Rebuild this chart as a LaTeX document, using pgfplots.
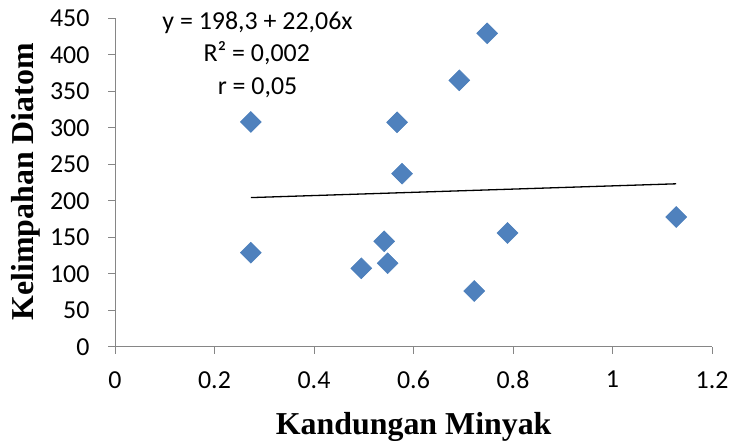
\documentclass[border=0pt]{standalone}
\usepackage{pgfplots}
\pgfplotsset{compat=1.18}
\usepackage{fontspec}
\setmainfont{Liberation Serif}
\newfontfamily\calibri{Carlito}
\definecolor{ptblue}{HTML}{4F81BD}
\definecolor{ptedge}{HTML}{4A7EBB}
\definecolor{axgray}{HTML}{868686}
\begin{document}
\begin{tikzpicture}[x=1bp,y=1bp]
\useasboundingbox (0,0) rectangle (730,441);
\begin{axis}[
  at={(115bp,94.3bp)}, anchor=south west,
  scale only axis, width=597bp, height=328.4bp,
  xmin=0, xmax=1.2, ymin=0, ymax=450,
  axis x line*=bottom, axis y line*=left,
  axis line style={axgray, line width=0.9bp},
  every tick/.style={axgray, line width=0.9bp},
  tick align=outside, major tick length=7bp,
  xtick={0,0.2,0.4,0.6,0.8,1,1.2},
  xticklabels={0,0.2,0.4,0.6,0.8,1,1.2},
  ytick={0,50,100,150,200,250,300,350,400,450},
  /pgf/number format/assume math mode=true,
  ticklabel style={font=\calibri\fontsize{26}{30}\selectfont, black},
  xticklabel style={yshift=-14bp},
  yticklabel style={xshift=-15bp},
  clip=false,
]
\addplot[only marks, mark=square*, mark size=7.4bp,
  mark options={rotate=45, fill=ptblue, draw=ptedge, line width=0.5bp}]
  coordinates {
  (0.273,307.9) (0.273,128.8) (0.495,107.4) (0.541,144.4) (0.548,114.3)
  (0.567,307.5) (0.577,237.1) (0.692,365.0) (0.748,429.4) (0.722,76.3)
  (0.789,155.8) (1.128,177.7)
  };
\addplot[black, line width=1.3bp] coordinates {(0.273,204.3) (1.128,223.2)};
\end{axis}
\node[anchor=base, font=\bfseries\fontsize{32}{36}\selectfont] at (413.7,6.7) {Kandungan Minyak};
\node[anchor=base, rotate=90, font=\bfseries\fontsize{32}{36}\selectfont] at (33,259.3) {Kelimpahan Diatom};
\node[anchor=base, font=\calibri\fontsize{26}{30}\selectfont] at (257.5,411) {y = 198,3 + 22,06x};
\node[anchor=base, font=\calibri\fontsize{26}{30}\selectfont] at (256.7,379.3) {R² = 0,002};
\node[anchor=base, font=\calibri\fontsize{26}{30}\selectfont] at (257.5,346) {r = 0,05};
\end{tikzpicture}
\end{document}
